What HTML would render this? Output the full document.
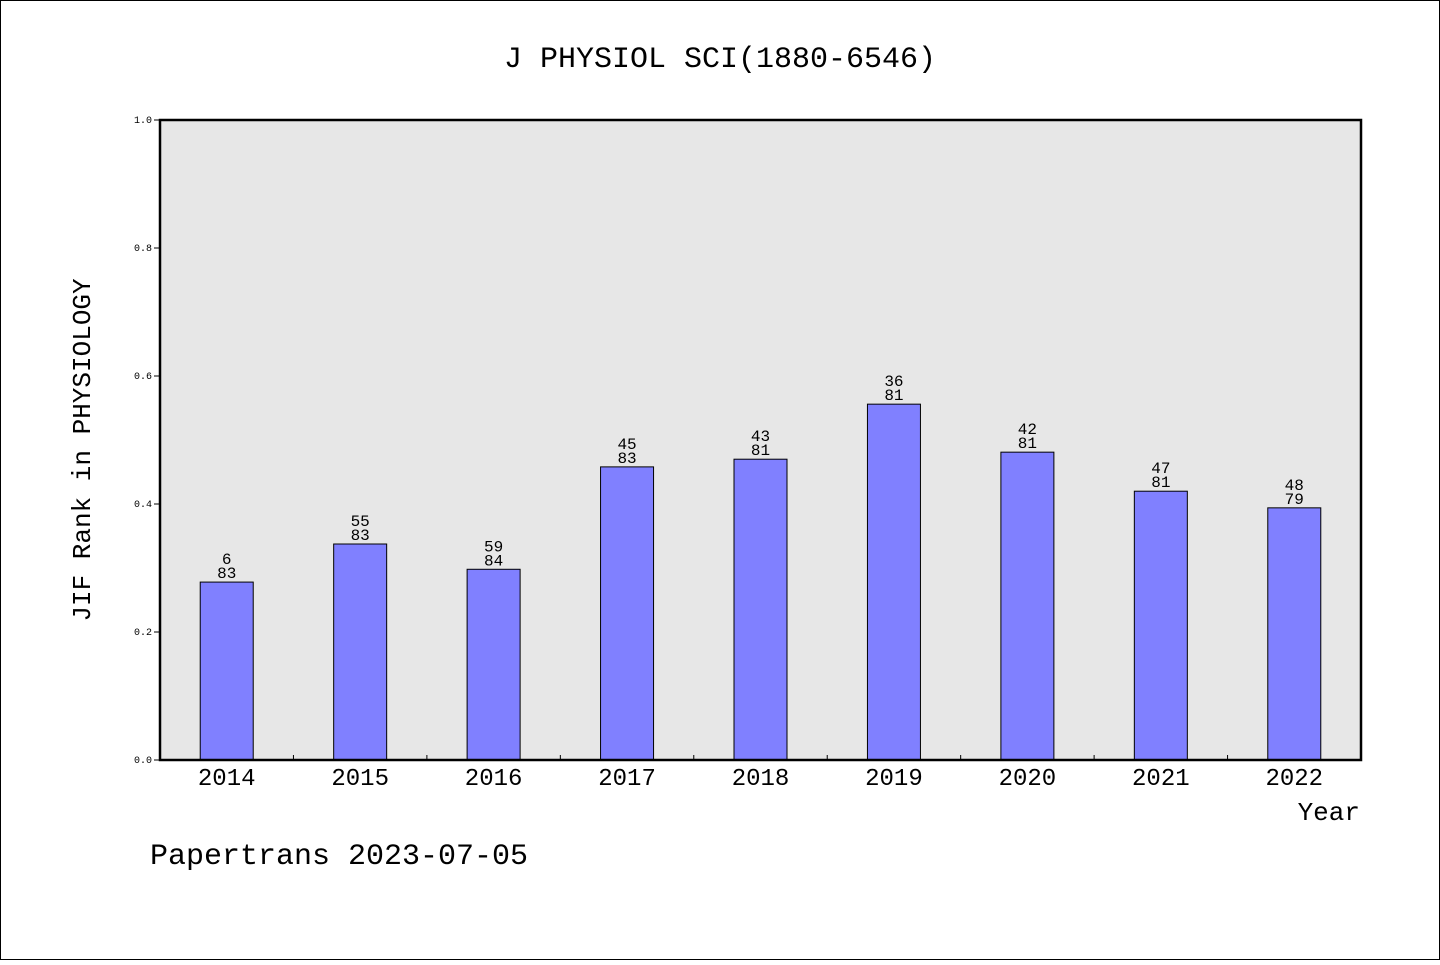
<!DOCTYPE html>
<html><head><meta charset="utf-8"><style>
html,body{margin:0;padding:0;background:#fff}
svg text{font-family:"WenQuanYi Zen Hei","Liberation Mono",monospace;fill:#000}
</style></head><body>
<svg id="chart" width="1440" height="960" xmlns="http://www.w3.org/2000/svg">
<rect x="0.5" y="0.5" width="1439" height="959" fill="#fff" stroke="#000"/>
<text x="720" y="67" font-size="30" text-anchor="middle">J PHYSIOL SCI(1880-6546)</text>
<rect x="160" y="120" width="1201" height="640" fill="#e7e7e7"/>
<g id="yaxis"></g>
<g id="bars"></g>
<rect x="160" y="120" width="1201" height="640" fill="none" stroke="#000" stroke-width="2.5"/>
<text transform="translate(90,450) rotate(-90)" font-size="26" text-anchor="middle">JIF Rank in PHYSIOLOGY</text>
<text x="1360" y="820" font-size="26" text-anchor="end">Year</text>
<text x="150" y="864" font-size="30">Papertrans 2023-07-05</text>
</svg>
<script>
const years=["2014","2015","2016","2017","2018","2019","2020","2021","2022"];
const values=[0.278,0.3375,0.298,0.458,0.470,0.556,0.481,0.420,0.394];
const ranks=["6","55","59","45","43","36","42","47","48"];
const totals=["83","83","84","83","81","81","81","81","79"];
const yTicks=["0.0","0.2","0.4","0.6","0.8","1.0"];
const NS="http://www.w3.org/2000/svg";
const x0=160,x1=1361,y0=760,y1=120;
const band=(x1-x0)/years.length;
const xc=i=>x0+band*(i+0.5);
const ys=v=>y0-(y0-y1)*v;
function mk(t,a,p){const e=document.createElementNS(NS,t);for(const k in a)e.setAttribute(k,a[k]);p.appendChild(e);return e;}
const ya=document.getElementById('yaxis'),bg=document.getElementById('bars');
yTicks.forEach(t=>{const y=ys(parseFloat(t));
const l=mk('line',{x1:x0-6,x2:x0,y1:y,y2:y,stroke:'#000'},ya);


const tx=mk('text',{x:x0-8,y:y+3,'font-size':10,'text-anchor':'end'},ya);tx.textContent=t;

});
for(let i=1;i<years.length;i++){const x=x0+band*i;
const l=mk('line',{x1:x,x2:x,y1:y0,y2:y0-5,stroke:'#000'},ya);

}
years.forEach((yr,i)=>{const c=xc(i),top=ys(values[i]),w=53;
const r=mk('rect',{x:c-w/2,y:top,width:w,height:y0-top,fill:'#8080ff',stroke:'#000','stroke-width':1},bg);


const a=mk('text',{x:c,y:top-18,'font-size':16,'text-anchor':'middle'},bg);a.textContent=ranks[i];


const b=mk('text',{x:c,y:top-4,'font-size':16,'text-anchor':'middle'},bg);b.textContent=totals[i];


const xl=mk('text',{x:c,y:y0+25,'font-size':24,'text-anchor':'middle'},bg);xl.textContent=yr;

});
</script>
</body></html>
